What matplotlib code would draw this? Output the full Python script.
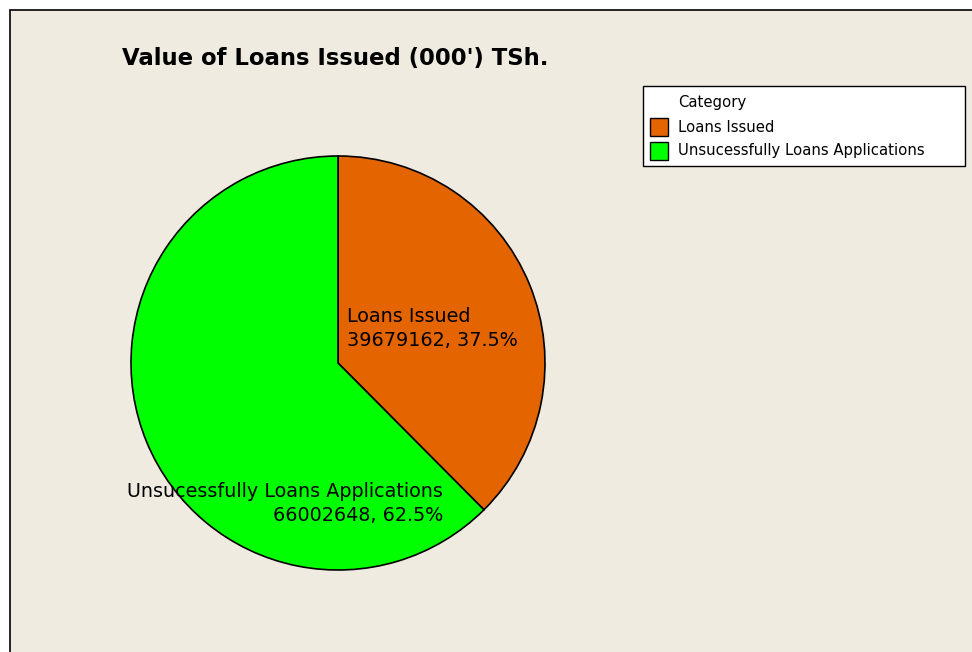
import matplotlib
matplotlib.use("Agg")
import matplotlib.pyplot as plt
from matplotlib.patches import Rectangle

categories = ["Loans Issued", "Unsucessfully Loans Applications"]
values = [39679162, 66002648]
colors = ["#E46400", "#00FF00"]
title = "Value of Loans Issued (000') TSh."
legend_title = "Category"

W, H = 972, 652
BG = "#F0EBE0"

fig = plt.figure(figsize=(W / 100, H / 100), dpi=100)
fig.patch.set_facecolor("white")


def fx(px):
    return px / W


def fy(py):
    return 1 - py / H


# Chart frame
frame = Rectangle((fx(9.5), -0.05), 1.2, fy(9.5) + 0.05, transform=fig.transFigure,
                  facecolor=BG, edgecolor="black", linewidth=1.2, zorder=-5)
fig.patches.append(frame)

fig.text(fx(122), fy(58), title, fontsize=16.4, fontweight="bold",
         ha="left", va="center", family="DejaVu Sans")

# Pie axes: centre (338, 363), radius 207 px
cx, cy, r = 338, 363, 207
ax = fig.add_axes([fx(cx - r), fy(cy + r), 2 * r / W, 2 * r / H], zorder=1)
ax.set_facecolor("none")
wedges, _ = ax.pie(values, colors=colors, startangle=90, counterclock=False,
                   radius=1.0, wedgeprops=dict(edgecolor="black", linewidth=1.2))
ax.set_xlim(-1, 1)
ax.set_ylim(-1, 1)
ax.set_aspect("auto")
ax.axis("off")

total = sum(values)
pcts = [100 * v / total for v in values]

fig.text(fx(347), fy(328.5), f"{categories[0]}\n{values[0]}, {pcts[0]:.1f}%",
         fontsize=13.8, ha="left", va="center", linespacing=1.27, zorder=3)
fig.text(fx(443), fy(503.5), f"{categories[1]}\n{values[1]}, {pcts[1]:.1f}%",
         fontsize=13.8, ha="right", va="center", linespacing=1.27,
         multialignment="right", zorder=3)

# Legend box
lx0, ly0, lx1, ly1 = 643, 86, 965, 166
fig.patches.append(Rectangle((fx(lx0), fy(ly1)), fx(lx1) - fx(lx0), fy(ly0) - fy(ly1),
                             transform=fig.transFigure, facecolor="white",
                             edgecolor="black", linewidth=1.0, zorder=2))
fig.text(fx(678), fy(103), legend_title, fontsize=10.75, ha="left", va="center", zorder=3)
for i, (lab, col) in enumerate(zip(categories, colors)):
    yc = 127 + 24 * i
    fig.patches.append(Rectangle((fx(650), fy(yc + 9)), fx(668) - fx(650), fy(yc - 9) - fy(yc + 9),
                                 transform=fig.transFigure, facecolor=col,
                                 edgecolor="black", linewidth=1.0, zorder=3))
    fig.text(fx(678), fy(yc), lab, fontsize=10.75, ha="left", va="center", zorder=3)

fig.savefig("out.png", dpi=100, facecolor=fig.get_facecolor())
